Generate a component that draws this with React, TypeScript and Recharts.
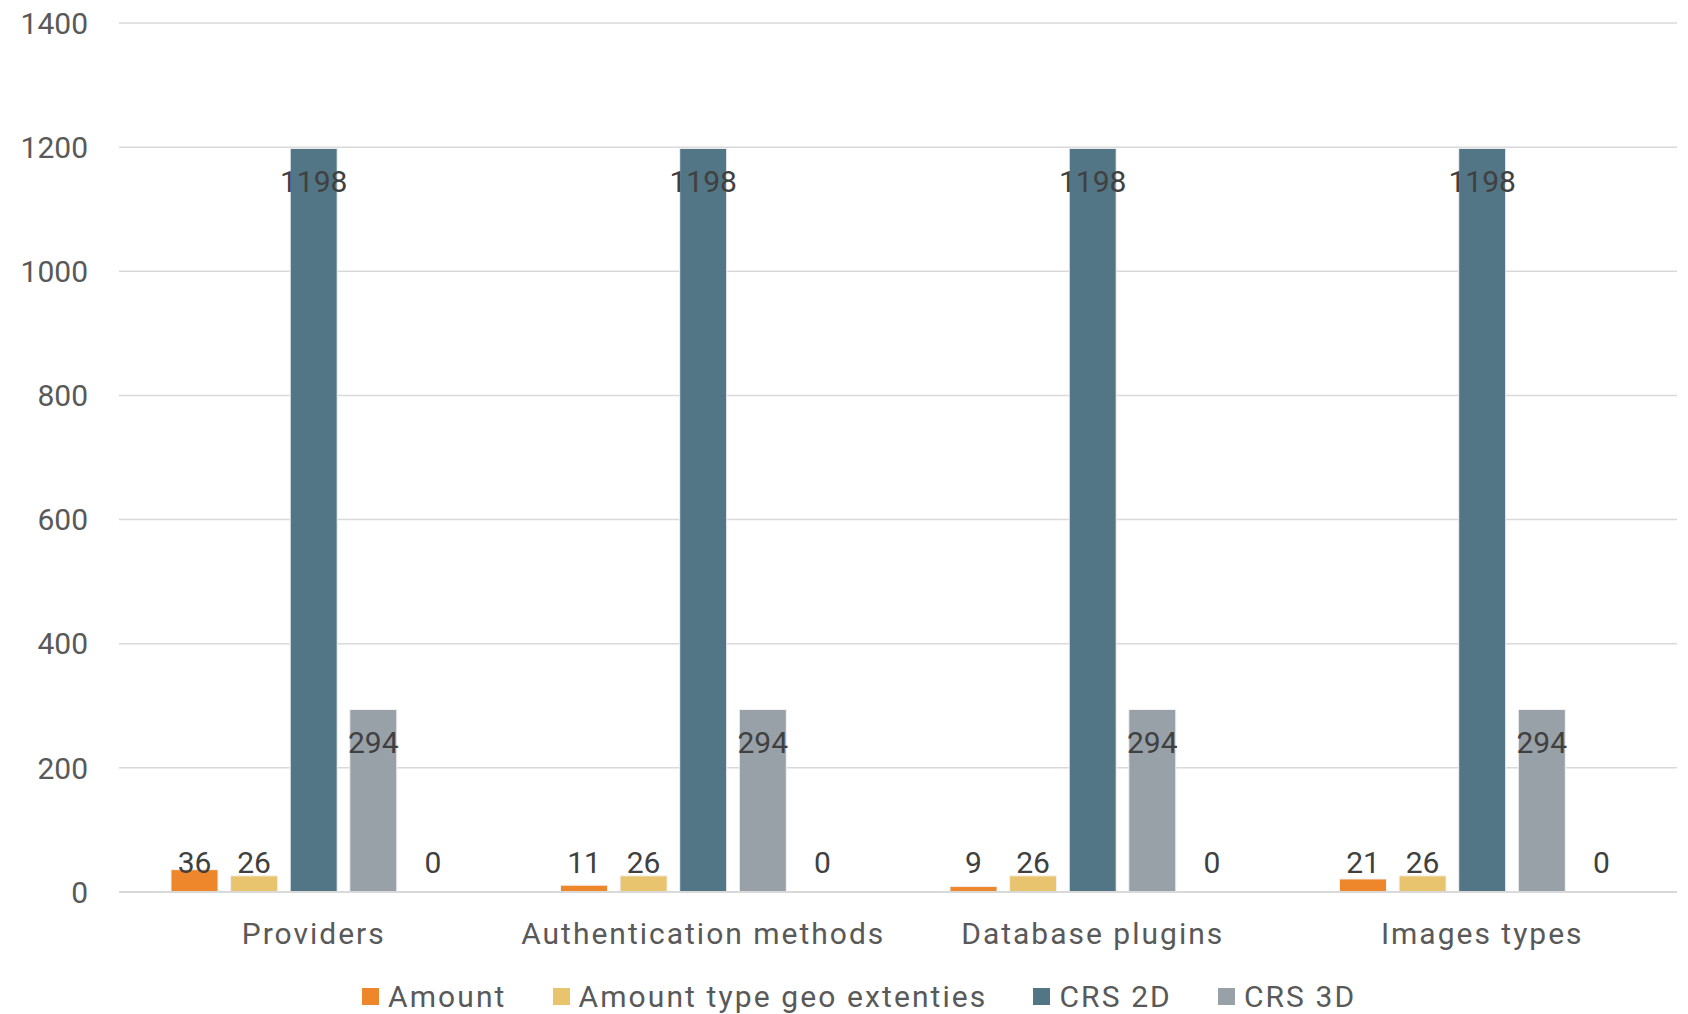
import { BarChart, Bar, XAxis, YAxis, CartesianGrid, Legend, LabelList } from "recharts";

const categories = ["Providers", "Authentication methods", "Database plugins", "Images types"];
const amount = [36, 11, 9, 21];
const amountGeo = [26, 26, 26, 26];
const crs2d = [1198, 1198, 1198, 1198];
const crs3d = [294, 294, 294, 294];
const other = [0, 0, 0, 0];
const yTicks = [0, 200, 400, 600, 800, 1000, 1200, 1400];

const data = categories.map((name, i) => ({
  name,
  amount: amount[i],
  amountGeo: amountGeo[i],
  crs2d: crs2d[i],
  crs3d: crs3d[i],
  other: other[i],
}));

const series = [
  { key: "amount", label: "Amount", color: "#EE872C" },
  { key: "amountGeo", label: "Amount type geo extenties", color: "#E8C46F" },
  { key: "crs2d", label: "CRS 2D", color: "#527685" },
  { key: "crs3d", label: "CRS 3D", color: "#98A0A8" },
  { key: "other", label: "", color: "none" },
];

const FONT = "Roboto, 'Liberation Sans', sans-serif";

// inside-end label, pushed up so small bars keep it above the axis
const renderLabel = (props: any) => {
  const { x, y, width, height, value } = props;
  const cy = Math.min(y + 33, y + height - 29.5);
  return (
    <text
      x={x + width / 2}
      y={cy}
      dy="0.355em"
      textAnchor="middle"
      fill="#404040"
      fontSize={30}
      fontFamily={FONT}
    >
      {value}
    </text>
  );
};

const renderLegend = () => (
  <div
    style={{
      display: "flex",
      alignItems: "center",
      paddingLeft: 362,
      paddingTop: 27,
      fontFamily: FONT,
      fontSize: 30,
      letterSpacing: 2.1,
      color: "#595959",
      gap: 46,
    }}
  >
    {series.slice(0, 4).map((s) => (
      <div key={s.key} style={{ display: "flex", alignItems: "center" }}>
        <span style={{ width: 17, height: 17, background: s.color, marginRight: 9, display: "inline-block" }} />
        <span>{s.label}</span>
      </div>
    ))}
  </div>
);

export default function App() {
  return (
    <div style={{ width: 1688, height: 1014, background: "#fff" }}>
      <style>{`body{margin:0}`}</style>
      <BarChart
        width={1688}
        height={1014}
        data={data}
        margin={{ top: 23, right: 11, bottom: 0, left: 0 }}
        barSize={47}
        barGap={12.6}
      >
        <CartesianGrid vertical={false} stroke="#D9D9D9" strokeWidth={1.5} />
        <XAxis
          dataKey="name"
          height={60}
          axisLine={{ stroke: "#D9D9D9", strokeWidth: 2 }}
          tickLine={false}
          tickSize={0}
          tickMargin={31}
          tick={{ fill: "#595959", fontSize: 30, fontFamily: FONT, letterSpacing: 2 }}
        />
        <YAxis
          width={119}
          domain={[0, 1400]}
          ticks={yTicks}
          axisLine={false}
          tickLine={false}
          tickSize={0}
          tickMargin={31}
          tick={{ fill: "#595959", fontSize: 30, fontFamily: FONT }}
        />
        <Legend verticalAlign="bottom" height={62} content={renderLegend} />
        {series.map((s) => (
          <Bar
            key={s.key}
            dataKey={s.key}
            name={s.label}
            fill={s.color}
            stroke={s.key === "other" ? "none" : "#F2F2F2"}
            strokeWidth={1}
            minPointSize={s.key === "other" ? 1 : 0}
            isAnimationActive={false}
          >
            <LabelList dataKey={s.key} content={renderLabel} />
          </Bar>
        ))}
      </BarChart>
    </div>
  );
}
